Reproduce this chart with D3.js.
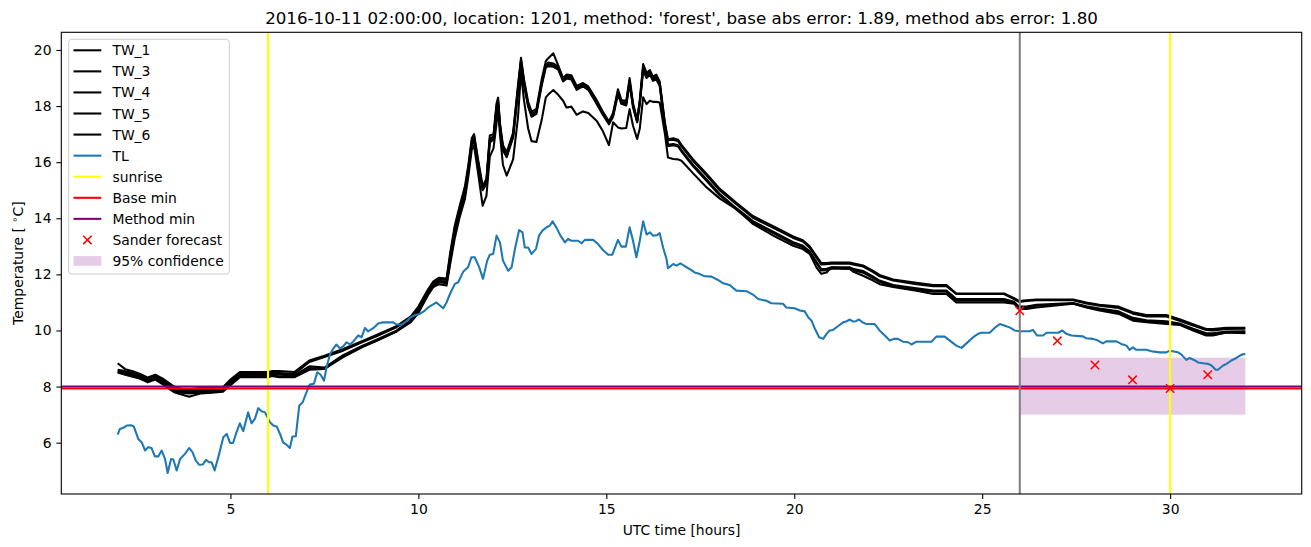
<!DOCTYPE html>
<html><head><meta charset="utf-8">
<script src="https://cdn.jsdelivr.net/npm/d3@7"></script>
<style>body{margin:0;background:#fff;} svg{display:block;font-family:"DejaVu Sans",sans-serif;}</style>
</head><body><svg id="c" width="1311" height="547"></svg>
<script>
// ---------------- DATA ----------------
const TITLE = "2016-10-11 02:00:00, location: 1201, method: 'forest', base abs error: 1.89, method abs error: 1.80";
const X_LABEL = "UTC time [hours]";
const X_TICKS = [5, 10, 15, 20, 25, 30];
const Y_TICKS = [6, 8, 10, 12, 14, 16, 18, 20];

const TW_TIME = [2.0,2.2,2.4,2.6,2.8,3.0,3.2,3.5,3.7,3.9,
4.2,4.5,4.8,5.0,5.25,5.5,6.0,6.1,6.3,6.7,
7.1,7.5,8.0,8.5,8.9,9.4,9.8,10.0,10.25,10.4,
10.55,10.75,10.85,10.97,11.1,11.24,11.33,11.42,11.48,11.6,
11.71,11.81,11.9,12.0,12.08,12.12,12.17,12.25,12.35,12.52,
12.65,12.73,12.81,12.92,13.01,13.14,13.28,13.39,13.45,13.59,
13.72,13.85,13.94,14.07,14.21,14.38,14.52,14.74,14.91,15.07,
15.18,15.31,15.40,15.53,15.62,15.71,15.82,15.89,15.98,16.07,
16.16,16.24,16.33,16.42,16.56,16.64,16.78,16.91,17.0,17.31,
17.67,18.02,18.46,18.90,19.44,19.97,20.23,20.41,20.59,20.72,
20.86,20.99,21.48,21.56,21.83,22.10,22.27,22.63,23.25,23.70,
24.05,24.31,25.58,25.85,25.98,26.18,26.44,27.42,27.77,28.12,
28.63,29.01,29.37,29.90,30.25,30.61,30.96,31.14,31.49,32.0];

const TW_1 = [8.50,8.42,8.35,8.28,8.15,8.25,8.08,7.80,7.72,7.64,
7.75,7.78,7.82,8.05,8.33,8.33,8.33,8.38,8.33,8.33,
8.60,8.63,9.10,9.42,9.64,9.95,10.30,10.62,11.25,11.55,
11.65,11.60,12.40,13.30,14.05,14.70,15.50,16.45,16.60,15.50,
14.45,14.80,16.20,16.50,17.40,17.90,17.00,15.90,15.52,16.10,
17.60,19.20,18.20,17.20,16.75,16.72,17.50,18.31,18.40,18.57,
18.40,18.19,17.95,17.98,17.69,17.81,17.75,17.48,17.10,16.61,
17.42,17.24,17.20,17.22,17.89,17.30,16.83,17.20,18.31,18.07,
18.19,18.15,18.15,18.13,17.00,16.17,16.11,16.10,16.05,15.60,
15.10,14.70,14.33,13.80,13.38,13.02,12.90,12.73,12.25,12.02,
12.07,12.25,12.19,12.10,11.95,11.78,11.65,11.55,11.42,11.30,
11.30,11.00,11.00,10.95,10.77,10.77,10.82,10.95,10.82,10.71,
10.59,10.35,10.29,10.23,10.20,10.00,9.82,9.82,9.93,9.90];

const TW_3 = [8.83,8.62,8.55,8.45,8.32,8.42,8.28,8.00,7.92,7.90,
7.95,7.95,7.98,8.25,8.52,8.52,8.52,8.55,8.55,8.52,
8.93,9.10,9.34,9.62,9.85,10.14,10.50,10.85,11.45,11.75,
11.88,11.85,12.80,13.75,14.45,15.15,15.90,16.85,17.00,16.00,
15.15,15.40,16.95,17.00,18.10,18.30,17.40,16.60,16.35,17.05,
18.75,19.72,18.95,18.15,17.80,17.90,18.95,19.60,19.70,19.88,
19.45,19.00,19.12,19.10,18.72,18.82,18.70,18.22,17.80,17.45,
17.75,18.60,18.22,18.18,19.00,18.10,17.52,18.22,19.50,19.18,
19.28,19.05,19.12,18.88,17.40,16.82,16.85,16.80,16.62,16.10,
15.58,15.05,14.55,14.08,13.72,13.35,13.22,13.00,12.65,12.40,
12.40,12.42,12.42,12.40,12.32,12.12,11.98,11.82,11.70,11.62,
11.62,11.32,11.32,11.15,11.05,11.08,11.10,11.10,11.00,10.92,
10.85,10.65,10.55,10.55,10.40,10.22,10.05,10.05,10.10,10.10];

const TW_4 = [8.60,8.55,8.48,8.40,8.28,8.38,8.22,7.95,7.88,7.85,
7.88,7.90,7.92,8.20,8.48,8.45,8.45,8.50,8.48,8.45,
8.88,9.05,9.28,9.58,9.80,10.10,10.46,10.80,11.40,11.70,
11.82,11.80,12.70,13.65,14.38,15.05,15.82,16.75,16.95,15.92,
15.08,15.32,16.85,16.92,18.02,18.22,17.32,16.52,16.28,16.98,
18.65,19.65,18.88,18.08,17.72,17.82,18.85,19.45,19.55,19.52,
19.40,18.95,19.05,19.05,18.65,18.78,18.65,18.15,17.75,17.40,
17.70,18.52,18.15,18.12,18.90,18.05,17.48,18.15,19.40,19.10,
19.22,19.00,19.05,18.82,17.32,16.78,16.80,16.75,16.56,16.04,
15.52,14.99,14.50,14.02,13.66,13.30,13.17,12.95,12.60,12.35,
12.36,12.38,12.38,12.35,12.28,12.08,11.93,11.78,11.65,11.58,
11.58,11.30,11.30,11.12,11.02,11.05,11.08,11.08,10.96,10.88,
10.80,10.60,10.50,10.50,10.35,10.18,10.02,10.00,10.05,10.06];

const TW_5 = [8.55,8.50,8.42,8.35,8.22,8.32,8.18,7.90,7.82,7.80,
7.82,7.85,7.88,8.15,8.42,8.40,8.40,8.45,8.42,8.40,
8.72,8.68,9.12,9.45,9.68,9.98,10.38,10.72,11.35,11.65,
11.78,11.72,12.60,13.55,14.30,14.98,15.75,16.70,16.85,15.85,
15.05,15.28,16.78,16.85,17.95,18.15,17.28,16.48,16.22,16.92,
18.58,19.58,18.80,18.02,17.68,17.78,18.80,19.42,19.48,19.45,
19.35,18.92,19.02,19.00,18.62,18.75,18.62,18.12,17.72,17.38,
17.68,18.48,18.12,18.08,18.85,18.00,17.45,18.10,19.35,19.05,
19.18,18.95,19.00,18.78,17.28,16.62,16.65,16.60,16.42,15.90,
15.38,14.86,14.36,13.90,13.52,13.15,13.02,12.82,12.45,12.18,
12.20,12.25,12.25,12.20,12.12,11.92,11.78,11.62,11.50,11.42,
11.42,11.12,11.12,11.02,10.85,10.85,10.92,10.98,10.86,10.78,
10.68,10.45,10.36,10.33,10.25,10.06,9.90,9.90,9.96,9.97];

const TW_6 = [8.52,8.45,8.38,8.30,8.18,8.28,8.12,7.85,7.78,7.75,
7.78,7.80,7.85,8.10,8.38,8.36,8.36,8.40,8.36,8.35,
8.65,8.63,9.05,9.40,9.64,9.95,10.35,10.68,11.30,11.60,
11.72,11.68,12.50,13.45,14.20,14.90,15.65,16.62,16.78,15.78,
15.00,15.22,16.70,16.80,17.88,18.08,17.22,16.42,16.18,16.88,
18.50,19.50,18.75,17.98,17.62,17.72,18.72,19.38,19.42,19.40,
19.30,18.88,18.98,18.95,18.58,18.70,18.58,18.08,17.68,17.35,
17.62,18.42,18.08,18.02,18.80,17.95,17.42,18.05,19.28,19.00,
19.12,18.90,18.95,18.72,17.22,16.58,16.60,16.56,16.38,15.85,
15.33,14.81,14.31,13.85,13.47,13.10,12.97,12.77,12.40,12.14,
12.15,12.20,12.20,12.16,12.06,11.87,11.73,11.57,11.45,11.38,
11.38,11.06,11.06,10.98,10.80,10.80,10.88,10.96,10.84,10.74,
10.64,10.40,10.32,10.28,10.22,10.02,9.86,9.84,9.93,9.93];

const TW_NAMES = ["TW_1", "TW_3", "TW_4", "TW_5", "TW_6"];
const TW_SERIES = [TW_1, TW_3, TW_4, TW_5, TW_6];

// TL: [hour, temperature]
const TL_POINTS = [[2.00,6.29],[2.06,6.49],[2.15,6.53],[2.24,6.61],[2.37,6.62],[2.43,6.57],[2.55,6.13],[2.64,6.01],[2.73,5.72],[2.81,5.84],[2.90,5.81],[2.99,5.51],[3.08,5.51],[3.17,5.72],[3.26,5.42],[3.33,4.92],[3.42,5.42],[3.48,5.40],[3.57,5.01],[3.66,5.42],[3.79,5.60],[3.90,5.81],[3.99,5.66],[4.08,5.36],[4.17,5.21],[4.26,5.22],[4.35,5.39],[4.43,5.30],[4.50,5.30],[4.58,5.01],[4.70,5.60],[4.81,6.19],[4.90,6.31],[4.99,5.99],[5.07,5.99],[5.16,6.37],[5.25,6.69],[5.34,6.41],[5.47,7.08],[5.56,6.69],[5.65,6.85],[5.74,7.23],[5.83,7.12],[5.92,7.08],[6.05,6.73],[6.14,6.61],[6.23,6.58],[6.32,6.31],[6.40,6.01],[6.49,5.93],[6.58,5.81],[6.65,6.22],[6.74,6.23],[6.83,7.32],[6.92,7.44],[7.03,7.82],[7.11,8.07],[7.22,8.10],[7.31,8.51],[7.40,8.42],[7.49,8.21],[7.56,8.71],[7.65,9.16],[7.73,9.34],[7.82,9.50],[7.91,9.36],[8.00,9.43],[8.09,9.58],[8.18,9.50],[8.27,9.61],[8.40,9.82],[8.49,9.76],[8.58,10.09],[8.66,9.97],[8.80,10.08],[8.93,10.25],[9.06,10.29],[9.33,10.29],[9.42,10.21],[9.55,10.21],[9.69,10.33],[9.77,10.45],[9.91,10.55],[10.04,10.59],[10.17,10.71],[10.26,10.82],[10.48,11.00],[10.66,10.79],[10.75,11.00],[10.84,11.30],[10.97,11.66],[11.06,11.72],[11.19,12.09],[11.32,12.25],[11.41,12.61],[11.50,12.61],[11.62,12.25],[11.72,11.84],[11.83,12.49],[11.90,12.70],[11.99,12.73],[12.08,13.38],[12.17,13.14],[12.25,12.49],[12.39,12.13],[12.48,12.25],[12.57,12.91],[12.68,13.58],[12.77,13.50],[12.83,12.96],[12.92,12.96],[13.01,12.73],[13.13,12.91],[13.21,13.38],[13.30,13.56],[13.41,13.68],[13.50,13.74],[13.57,13.89],[13.68,13.65],[13.78,13.38],[13.90,13.14],[13.98,13.26],[14.07,13.20],[14.25,13.20],[14.34,13.11],[14.43,13.23],[14.65,13.23],[14.78,13.08],[14.91,12.87],[15.05,12.70],[15.16,12.70],[15.25,13.02],[15.31,13.23],[15.40,12.99],[15.52,12.99],[15.62,13.68],[15.71,13.20],[15.80,12.61],[15.89,13.20],[15.98,13.89],[16.07,13.42],[16.16,13.50],[16.24,13.38],[16.35,13.40],[16.42,13.47],[16.51,12.96],[16.60,12.55],[16.64,12.22],[16.78,12.37],[16.87,12.31],[16.97,12.39],[17.09,12.29],[17.22,12.19],[17.35,12.07],[17.49,12.01],[17.62,11.93],[17.80,11.92],[17.97,11.80],[18.11,11.68],[18.28,11.62],[18.46,11.42],[18.73,11.40],[18.90,11.28],[19.04,11.12],[19.26,11.06],[19.39,10.97],[19.70,10.95],[19.79,10.82],[20.01,10.79],[20.15,10.71],[20.28,10.68],[20.37,10.47],[20.46,10.35],[20.55,10.06],[20.66,9.76],[20.77,9.70],[20.86,9.88],[20.94,10.00],[21.03,10.02],[21.16,10.15],[21.30,10.29],[21.38,10.32],[21.48,10.39],[21.56,10.32],[21.64,10.33],[21.72,10.39],[21.83,10.28],[21.92,10.23],[22.14,10.23],[22.27,10.00],[22.41,9.82],[22.54,9.64],[22.65,9.70],[22.76,9.70],[22.89,9.60],[23.03,9.58],[23.12,9.50],[23.25,9.60],[23.65,9.60],[23.78,9.78],[24.00,9.78],[24.14,9.64],[24.31,9.46],[24.45,9.38],[24.58,9.54],[24.76,9.76],[24.89,9.88],[24.98,9.92],[25.20,9.92],[25.33,10.09],[25.47,10.23],[25.60,10.17],[25.73,10.11],[25.86,10.00],[26.00,9.97],[26.26,9.97],[26.35,10.02],[26.46,9.82],[26.62,9.82],[26.71,9.92],[27.02,9.92],[27.13,10.00],[27.24,9.88],[27.37,9.82],[27.68,9.79],[27.77,9.72],[27.95,9.70],[28.08,9.64],[28.21,9.54],[28.30,9.61],[28.57,9.61],[28.70,9.52],[28.84,9.46],[28.92,9.31],[29.01,9.40],[29.10,9.31],[29.37,9.31],[29.50,9.26],[29.72,9.22],[29.90,9.22],[29.99,9.28],[30.21,9.22],[30.30,9.14],[30.43,8.95],[30.52,9.02],[30.66,8.93],[30.74,8.86],[30.88,8.83],[31.01,8.81],[31.10,8.75],[31.21,8.60],[31.27,8.60],[31.41,8.75],[31.50,8.81],[31.63,8.93],[31.76,9.02],[31.89,9.13],[32.00,9.17]];

const SUNRISE_HOURS = [6, 30];
const FORECAST_START = 26;
const BASE_MIN = 7.93;
const METHOD_MIN = 8.0;
const SANDER_TIME = [26, 27, 28, 29, 30, 31];
const SANDER_TEMP = [10.70, 9.63, 8.77, 8.24, 7.93, 8.42];
const CONF_TIME = [26, 32];
const CONF_TEMP = [7.0, 9.03];

const LEGEND_LABELS = ["TW_1","TW_3","TW_4","TW_5","TW_6","TL","sunrise","Base min","Method min","Sander forecast","95% confidence"];

// ---------------- DRAW ----------------
const svg = d3.select('#c');
const L = 61.3, R = 1301.7, T = 32.3, B = 494;
const x = d3.scaleLinear().domain([0.5, 33.5]).range([L, R]);
const y = d3.scaleLinear().domain([4.17, 20.63]).range([B, T]);
const LW = 2.08;
const FS = 13.9;

svg.append('rect').attr('width', 1311).attr('height', 547).attr('fill', '#fff');
svg.append('clipPath').attr('id', 'clip').append('rect')
  .attr('x', L).attr('y', T).attr('width', R - L).attr('height', B - T);
const g = svg.append('g').attr('clip-path', 'url(#clip)');

// confidence band (patch, lowest zorder)
g.append('rect')
  .attr('x', x(CONF_TIME[0])).attr('width', x(CONF_TIME[1]) - x(CONF_TIME[0]))
  .attr('y', y(CONF_TEMP[1])).attr('height', y(CONF_TEMP[0]) - y(CONF_TEMP[1]))
  .attr('fill', 'purple').attr('fill-opacity', 0.2);

const line = d3.line().x(d => x(d[0])).y(d => y(d[1]));

TW_SERIES.forEach(s => {
  g.append('path').datum(TW_TIME.map((t, i) => [t, s[i]]))
    .attr('d', line).attr('fill', 'none').attr('stroke', '#000')
    .attr('stroke-width', LW).attr('stroke-linejoin', 'round');
});

g.append('path').datum(TL_POINTS).attr('d', line).attr('fill', 'none')
  .attr('stroke', '#1f77b4').attr('stroke-width', LW).attr('stroke-linejoin', 'round');

SUNRISE_HOURS.forEach(h => {
  g.append('line').attr('x1', x(h)).attr('x2', x(h)).attr('y1', T).attr('y2', B)
    .attr('stroke', 'yellow').attr('stroke-width', LW);
});

g.append('line').attr('x1', L).attr('x2', R).attr('y1', y(BASE_MIN)).attr('y2', y(BASE_MIN))
  .attr('stroke', 'red').attr('stroke-width', LW);
g.append('line').attr('x1', L).attr('x2', R).attr('y1', y(METHOD_MIN)).attr('y2', y(METHOD_MIN))
  .attr('stroke', 'purple').attr('stroke-width', LW);

g.append('line').attr('x1', x(FORECAST_START)).attr('x2', x(FORECAST_START)).attr('y1', T).attr('y2', B)
  .attr('stroke', 'grey').attr('stroke-width', LW);

const xMark = 'M-4.2,-4.2L4.2,4.2M-4.2,4.2L4.2,-4.2';
SANDER_TIME.forEach((t, i) => {
  g.append('path').attr('d', xMark)
    .attr('transform', `translate(${x(t)},${y(SANDER_TEMP[i])})`)
    .attr('stroke', 'red').attr('stroke-width', 1.5).attr('fill', 'none');
});

// axes
const xAxis = svg.append('g').attr('transform', `translate(0,${B})`)
  .call(d3.axisBottom(x).tickValues(X_TICKS).tickSize(4.9).tickPadding(5.5).tickFormat(d3.format('d')));
const yAxis = svg.append('g').attr('transform', `translate(${L},0)`)
  .call(d3.axisLeft(y).tickValues(Y_TICKS).tickSize(4.9).tickPadding(4.9).tickFormat(d3.format('d')));
[xAxis, yAxis].forEach(a => {
  a.select('.domain').remove();
  a.selectAll('line').attr('stroke', '#000').attr('stroke-width', 1.1);
  a.selectAll('text').attr('font-size', FS).attr('fill', '#000').attr('font-family', '"DejaVu Sans"');
});

svg.append('rect').attr('x', L).attr('y', T).attr('width', R - L).attr('height', B - T)
  .attr('fill', 'none').attr('stroke', '#000').attr('stroke-width', 1.1);

// title and labels
svg.append('text').attr('x', (L + R) / 2).attr('y', 23.5).attr('text-anchor', 'middle')
  .attr('font-size', 16.7).text(TITLE);
svg.append('text').attr('x', (L + R) / 2).attr('y', 535).attr('text-anchor', 'middle')
  .attr('font-size', FS).text(X_LABEL);
const yl = svg.append('text').attr('transform', `translate(22.5,${(T + B) / 2}) rotate(-90)`)
  .attr('text-anchor', 'middle').attr('font-size', FS);
yl.append('tspan').text('Temperature [ ');
yl.append('tspan').attr('font-size', FS * 0.7).attr('dy', -5).text('∘');
yl.append('tspan').attr('dy', 5).text('C]');

// legend
const lg = svg.append('g');
lg.append('rect').attr('x', 68.7).attr('y', 39.3).attr('width', 160.6).attr('height', 234.7)
  .attr('rx', 3).attr('fill', '#fff').attr('fill-opacity', 0.8)
  .attr('stroke', '#cccccc').attr('stroke-width', 1);
const legendStyles = [
  {type: 'line', color: '#000'}, {type: 'line', color: '#000'}, {type: 'line', color: '#000'},
  {type: 'line', color: '#000'}, {type: 'line', color: '#000'}, {type: 'line', color: '#1f77b4'},
  {type: 'line', color: 'yellow'}, {type: 'line', color: 'red'}, {type: 'line', color: 'purple'},
  {type: 'marker', color: 'red'}, {type: 'patch', color: 'purple'}
];
LEGEND_LABELS.forEach((lab, i) => {
  const cy = 50.3 + i * 21.07;
  const st = legendStyles[i];
  if (st.type === 'line') {
    lg.append('line').attr('x1', 73.5).attr('x2', 101.3).attr('y1', cy).attr('y2', cy)
      .attr('stroke', st.color).attr('stroke-width', LW);
  } else if (st.type === 'marker') {
    lg.append('path').attr('d', xMark).attr('transform', `translate(87.4,${cy})`)
      .attr('stroke', st.color).attr('stroke-width', 1.5).attr('fill', 'none');
  } else {
    lg.append('rect').attr('x', 73.5).attr('y', cy - 4.9).attr('width', 27.8).attr('height', 9.7)
      .attr('fill', st.color).attr('fill-opacity', 0.2);
  }
  lg.append('text').attr('x', 112.4).attr('y', cy + 5).attr('font-size', FS).text(lab);
});
</script></body></html>
